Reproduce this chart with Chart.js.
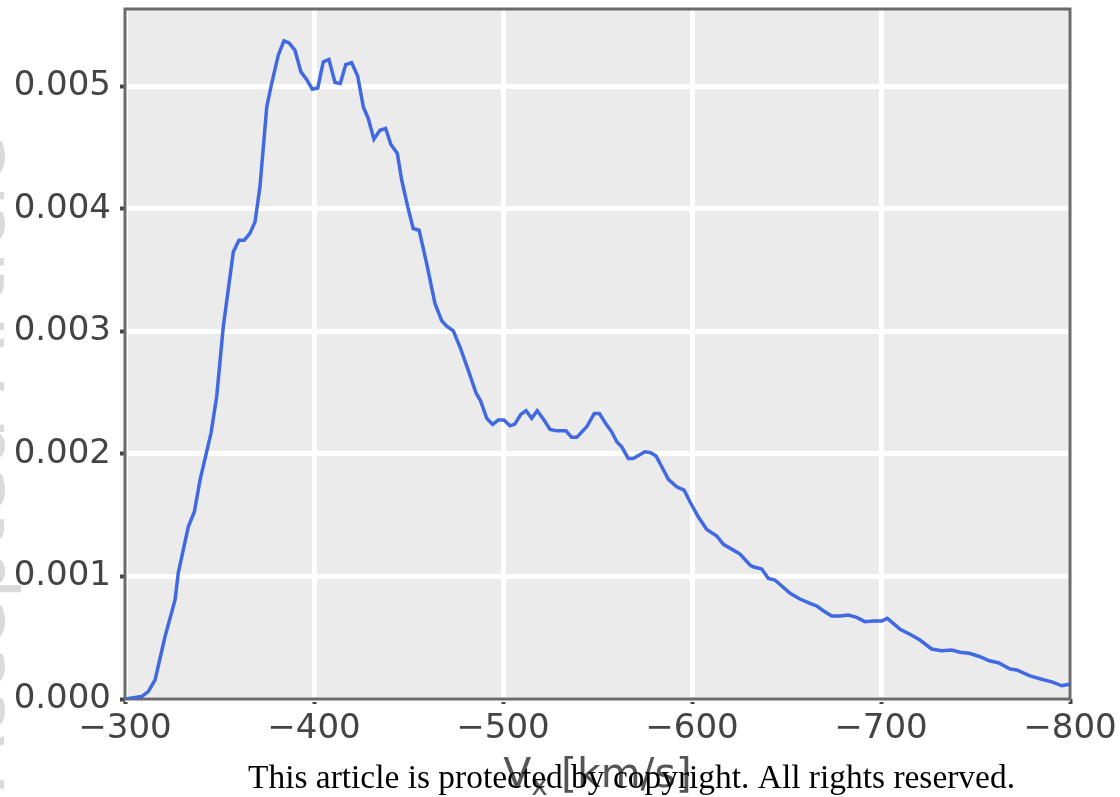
<!DOCTYPE html>
<html>
<head>
<meta charset="utf-8">
<script src="https://cdn.jsdelivr.net/npm/chart.js@4.4.1/dist/chart.umd.min.js"></script>
<style>
  html, body { margin: 0; padding: 0; background: #fff; }
  #wrap { width: 1120px; height: 797px; }
</style>
</head>
<body>
<div id="wrap"><canvas id="chart" width="1120" height="797"></canvas></div>
<script>
// Vx [km/s]
const vx = [-300, -308.8, -312.3, -315.9, -321.2, -326.5, -328.2, -330.8, -333.5, -336.7,
  -339.7, -345.5, -348.5, -352.0, -357.3, -360.3, -363.1, -366.1, -368.8, -371.4,
  -375.0, -377.6, -381.1, -384.1, -386.8, -389.9, -393.1, -396.1, -399.1, -402.0,
  -404.9, -407.9, -411.1, -413.9, -416.8, -419.9, -423.1, -426.1, -428.7, -431.7,
  -434.9, -437.9, -440.7, -444.1, -446.4, -449.6, -452.5, -455.6, -459.6, -464.0,
  -467.6, -470.2, -473.7, -477.2, -481.6, -485.7, -488.2, -491.4, -494.5, -497.5,
  -500.5, -503.7, -506.3, -509.4, -512.2, -515.2, -518.1, -521.7, -524.9, -528.4,
  -533.3, -536.3, -539.0, -544.3, -548.3, -551.0, -554.9, -557.5, -560.2, -562.8,
  -566.3, -568.9, -575.1, -578.1, -581.0, -584.0, -587.5, -591.9, -595.8, -599.0,
  -603.3, -607.8, -613.1, -616.6, -621.0, -625.4, -630.7, -632.4, -636.9, -640.4,
  -643.9, -647.5, -651.9, -657.1, -662.4, -666.0, -669.5, -673.9, -678.4, -682.7,
  -687.1, -691.5, -695.9, -700.4, -703.3, -706.5, -710.1, -715.3, -720.6, -726.8,
  -732.1, -737.4, -741.8, -746.7, -752.4, -757.3, -762.1, -768.3, -771.8, -778.8,
  -785.0, -791.2, -795.6, -799.6];

const density = [0, 0.00002, 0.00006, 0.000155, 0.00051, 0.00081, 0.00103, 0.001215, 0.001405, 0.001528,
  0.001786, 0.00217, 0.002466, 0.003037, 0.003648, 0.003744, 0.003744, 0.003799, 0.003893, 0.004179,
  0.004831, 0.005022, 0.005253, 0.00537, 0.005353, 0.005294, 0.005117, 0.005055, 0.004976, 0.004986,
  0.005198, 0.005218, 0.00503, 0.005022, 0.005177, 0.005193, 0.005084, 0.004831, 0.004737, 0.004568,
  0.004641, 0.004655, 0.004524, 0.004451, 0.004233, 0.004016, 0.003839, 0.003825, 0.003554, 0.003228,
  0.003086, 0.003042, 0.003004, 0.002874, 0.002684, 0.002498, 0.002431, 0.00229, 0.002241, 0.002276,
  0.002276, 0.002229, 0.002243, 0.002322, 0.002352, 0.00229, 0.002352, 0.002276, 0.0022, 0.002188,
  0.002188, 0.002135, 0.002135, 0.002221, 0.00233, 0.00233, 0.002235, 0.00218, 0.002099, 0.002058,
  0.001963, 0.001963, 0.002017, 0.002009, 0.001982, 0.001895, 0.001792, 0.001732, 0.001705, 0.001607,
  0.001487, 0.001384, 0.00133, 0.001262, 0.001223, 0.001183, 0.001093, 0.001079, 0.00106, 0.000984,
  0.000971, 0.000922, 0.000862, 0.000816, 0.000781, 0.000759, 0.00072, 0.000677, 0.000677, 0.000685,
  0.000666, 0.000631, 0.000636, 0.000636, 0.000658, 0.000617, 0.000569, 0.000528, 0.000481, 0.000408,
  0.000394, 0.0004, 0.000381, 0.000373, 0.000345, 0.000312, 0.000296, 0.000245, 0.000237, 0.000188,
  0.000161, 0.000136, 0.000108, 0.00012];

const xTicks = [-300, -400, -500, -600, -700, -800];
const yTicks = [0, 0.001, 0.002, 0.003, 0.004, 0.005];

const xTitle = 'V';
const xTitleSub = 'x';
const xTitleUnit = ' [km/s]';
const notice = 'This article is protected by copyright. All rights reserved.';
const watermark = 'Accepted Article';

// gray panel + frame, plus the text bits chart.js can't do (subscript, overlay)
const decor = {
  id: 'decor',
  beforeDraw(chart) {
    const { ctx, chartArea: a } = chart;
    ctx.save();
    ctx.fillStyle = '#ebebeb';
    ctx.fillRect(a.left, a.top, a.right - a.left, a.bottom - a.top);
    ctx.restore();
  },
  beforeDatasetsDraw(chart) {
    const { ctx, chartArea: a } = chart;
    ctx.save();
    ctx.strokeStyle = '#6b6b6b';
    ctx.lineWidth = 3;
    ctx.strokeRect(a.left, a.top, a.right - a.left, a.bottom - a.top);
    ctx.restore();
  },
  afterDraw(chart) {
    const { ctx, chartArea: a } = chart;
    ctx.save();
    // cut-off watermark on the left edge
    ctx.translate(4, 790);
    ctx.rotate(-Math.PI / 2);
    ctx.fillStyle = '#dadada';
    ctx.font = '80px "DejaVu Sans"';
    ctx.textBaseline = 'alphabetic';
    ctx.fillText(watermark, 0, 0);
    ctx.restore();

    // axis title V_x [km/s]
    ctx.save();
    ctx.fillStyle = '#555';
    ctx.textBaseline = 'alphabetic';
    const big = '41px "DejaVu Sans"', small = '28px "DejaVu Sans"';
    ctx.font = big;
    const wV = ctx.measureText(xTitle).width;
    const wU = ctx.measureText(xTitleUnit).width;
    ctx.font = small;
    const wS = ctx.measureText(xTitleSub).width;
    let x = (a.left + a.right) / 2 - (wV + wS + wU) / 2;
    const base = 787;
    ctx.font = big;
    ctx.fillText(xTitle, x, base);
    x += wV;
    ctx.font = small;
    ctx.fillText(xTitleSub, x, base + 8);
    x += wS;
    ctx.font = big;
    ctx.fillText(xTitleUnit, x, base);
    ctx.restore();

    // copyright overlay
    ctx.save();
    ctx.fillStyle = '#000';
    ctx.font = '34px "Liberation Serif"';
    ctx.textBaseline = 'alphabetic';
    const w = ctx.measureText(notice).width;
    const target = 767;
    ctx.translate(248, 788);
    ctx.scale(target / w, 1);
    ctx.fillText(notice, 0, 0);
    ctx.restore();
  }
};

const minus = v => (v < 0 ? '\u2212' + Math.abs(v) : String(v));

new Chart(document.getElementById('chart'), {
  type: 'line',
  data: {
    datasets: [{
      data: vx.map((v, i) => ({ x: v, y: density[i] })),
      borderColor: '#4169e1',
      borderWidth: 3.5,
      pointRadius: 0,
      tension: 0,
      fill: false
    }]
  },
  options: {
    responsive: false,
    animation: false,
    layout: { autoPadding: false, padding: { left: 0, right: 50, top: 9, bottom: 0 } },
    plugins: { legend: { display: false }, tooltip: { enabled: false } },
    scales: {
      x: {
        type: 'linear',
        reverse: true,
        min: -800,
        max: -300,
        afterFit: s => { s.height = 98; s.paddingLeft = 0; s.paddingRight = 0; },
        afterBuildTicks: s => { s.ticks = xTicks.map(v => ({ value: v })); },
        grid: { color: '#ffffff', lineWidth: 5, tickColor: '#444', tickLength: 5, tickWidth: 4 },
        border: { display: false },
        ticks: {
          padding: 5,
          maxRotation: 0,
          autoSkip: false,
          color: '#444',
          font: { family: 'DejaVu Sans', size: 34 },
          callback: v => minus(v)
        }
      },
      y: {
        min: 0,
        max: 0.00563,
        afterFit: s => { s.width = 125; s.paddingTop = 0; s.paddingBottom = 0; },
        afterBuildTicks: s => { s.ticks = yTicks.map(v => ({ value: v })); },
        grid: { color: '#ffffff', lineWidth: 5, tickColor: '#444', tickLength: 5, tickWidth: 4 },
        border: { display: false },
        ticks: {
          padding: 9,
          autoSkip: false,
          color: '#444',
          font: { family: 'DejaVu Sans', size: 34 },
          callback: v => v.toFixed(3)
        }
      }
    }
  },
  plugins: [decor]
});
</script>
</body>
</html>
